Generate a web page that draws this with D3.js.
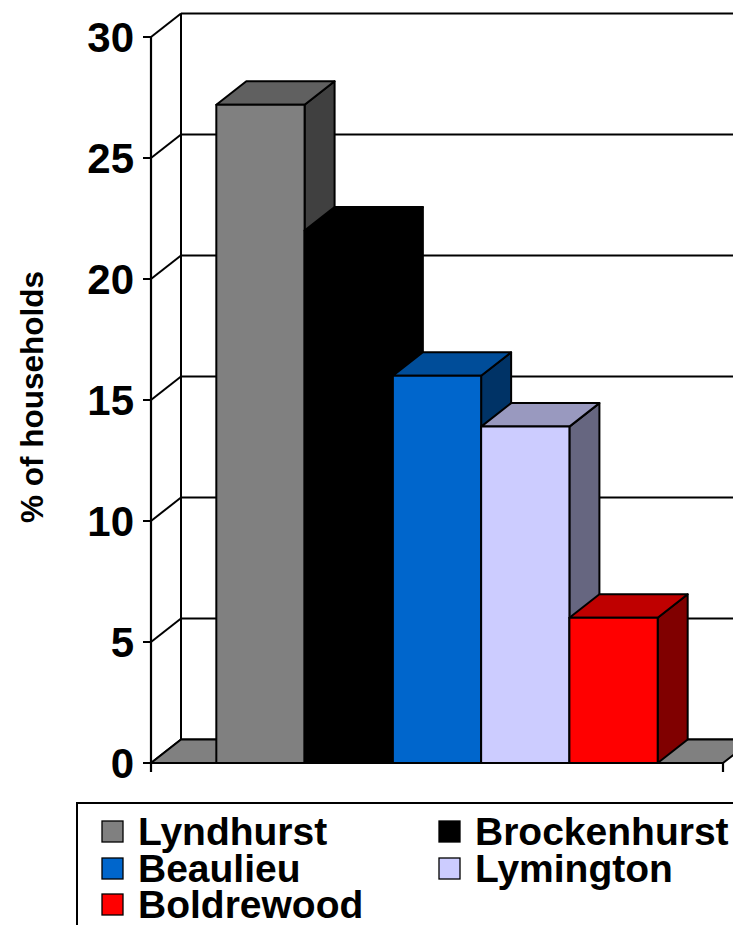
<!DOCTYPE html>
<html>
<head>
<meta charset="utf-8">
<script src="https://cdn.jsdelivr.net/npm/d3@7/dist/d3.min.js"></script>
<style>
  html, body { margin: 0; padding: 0; background: #fff; }
  svg { display: block; font-family: "Liberation Sans", Arial, sans-serif; font-weight: bold; }
</style>
</head>
<body>
<svg id="chart" width="733" height="925"></svg>
<script>
// Share of households by village
const categories = ["Lyndhurst", "Brockenhurst", "Beaulieu", "Lymington", "Boldrewood"];
const values = [27.2, 22.0, 16.0, 13.9, 6.0];
const tickValues = [0, 5, 10, 15, 20, 25, 30];
const tickLabels = ["0", "5", "10", "15", "20", "25", "30"];
const frontColors = ["#808080", "#000000", "#0066CC", "#CCCCFF", "#FF0000"];
const topColors   = ["#606060", "#000000", "#004D99", "#9999BF", "#BF0000"];
const sideColors  = ["#404040", "#000000", "#003366", "#666680", "#800000"];
const legendOrder = [[0, 1], [2, 3], [4]];

(function () {
  const svg = d3.select("#chart");

  // plot geometry (front plane) and 3D depth offset
  const pLeft = 151, pRight = 723, pTop = 37, pBottom = 763;
  const dx = 30, dy = 23.5;

  const y = d3.scaleLinear().domain([0, 30]).range([pBottom, pTop]);
  const x = d3.scaleBand().domain(categories).range([pLeft, pRight])
    .paddingInner(0).paddingOuter(0.74);

  const line = (x1, y1, x2, y2, w = 2) => svg.append("line")
    .attr("x1", x1).attr("y1", y1).attr("x2", x2).attr("y2", y2)
    .attr("stroke", "#000").attr("stroke-width", w);

  // back wall gridlines and side-wall diagonals
  const walls = svg.append("g");
  tickValues.forEach(v => {
    walls.append("line").attr("x1", pLeft + dx).attr("x2", pRight + dx)
      .attr("y1", y(v) - dy).attr("y2", y(v) - dy)
      .attr("stroke", "#000").attr("stroke-width", 2);
    walls.append("line").attr("x1", pLeft).attr("y1", y(v))
      .attr("x2", pLeft + dx).attr("y2", y(v) - dy)
      .attr("stroke", "#000").attr("stroke-width", 2);
  });
  line(pLeft + dx, y(30) - dy, pLeft + dx, y(0) - dy);

  // floor
  svg.append("path")
    .attr("d", d3.line()([[pLeft, y(0)], [pRight, y(0)], [pRight + dx, y(0) - dy], [pLeft + dx, y(0) - dy]]) + "Z")
    .attr("fill", "#808080").attr("stroke", "#000").attr("stroke-width", 2)
    .attr("stroke-linejoin", "round");

  // value axis with ticks and labels
  line(pLeft, y(30), pLeft, y(0) + 9, 2.2);
  const ticks = svg.append("g");
  tickValues.forEach((v, i) => {
    ticks.append("line").attr("x1", pLeft - 8).attr("x2", pLeft)
      .attr("y1", y(v)).attr("y2", y(v)).attr("stroke", "#000").attr("stroke-width", 2);
    ticks.append("text").attr("x", pLeft - 17).attr("y", y(v)).attr("dy", "0.36em")
      .attr("text-anchor", "end").attr("font-size", 42).attr("fill", "#000")
      .text(tickLabels[i]);
  });

  // category axis along the front of the floor
  line(pLeft, y(0), pRight, y(0), 2.2);
  line(pRight, y(0), pRight, y(0) + 9, 2.2);

  // 3D columns, drawn left to right so each covers its neighbour's side
  const bars = svg.append("g").attr("stroke", "#000").attr("stroke-width", 2)
    .attr("stroke-linejoin", "round");
  const poly = pts => d3.line()(pts) + "Z";
  categories.forEach((c, i) => {
    const x0 = x(c), x1 = x(c) + x.bandwidth();
    const yt = y(values[i]), yb = y(0);
    bars.append("path").attr("fill", sideColors[i])
      .attr("d", poly([[x1, yt], [x1 + dx, yt - dy], [x1 + dx, yb - dy], [x1, yb]]));
    bars.append("path").attr("fill", topColors[i])
      .attr("d", poly([[x0, yt], [x0 + dx, yt - dy], [x1 + dx, yt - dy], [x1, yt]]));
    bars.append("path").attr("fill", frontColors[i])
      .attr("d", poly([[x0, yt], [x1, yt], [x1, yb], [x0, yb]]));
  });

  // value axis title
  svg.append("text")
    .attr("transform", "translate(43,397) rotate(-90)")
    .attr("text-anchor", "middle").attr("font-size", 31.5).attr("fill", "#000")
    .text("% of households");

  // legend
  const lg = svg.append("g");
  lg.append("rect").attr("x", 77).attr("y", 803).attr("width", 700).attr("height", 200)
    .attr("fill", "#fff").attr("stroke", "#000").attr("stroke-width", 2);
  const colX = [102, 439], rowY = [845, 882, 918];
  legendOrder.forEach((row, r) => {
    row.forEach((idx, cI) => {
      lg.append("rect").attr("x", colX[cI]).attr("y", rowY[r] - 24)
        .attr("width", 21).attr("height", 21)
        .attr("fill", frontColors[idx]).attr("stroke", "#000").attr("stroke-width", 1.3);
      lg.append("text").attr("x", colX[cI] + 36).attr("y", rowY[r])
        .attr("font-size", 39).attr("fill", "#000").text(categories[idx]);
    });
  });
})();
</script>
</body>
</html>
